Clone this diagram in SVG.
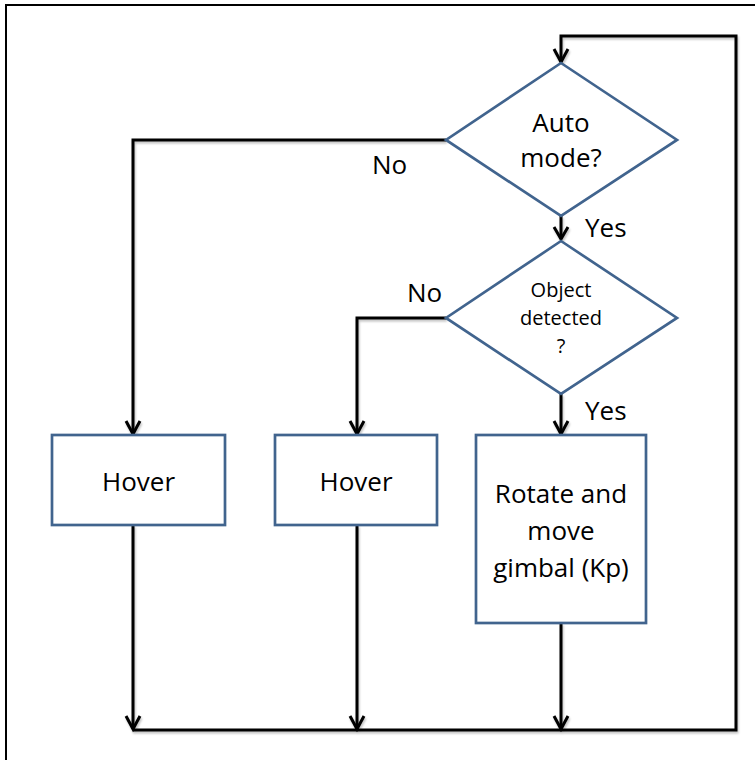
<svg xmlns="http://www.w3.org/2000/svg" width="755" height="760" viewBox="0 0 755 760">
  <style>
    .shape { fill: #ffffff; stroke: #41648e; stroke-width: 2.7; }
    .wire { fill: none; stroke: #000000; stroke-width: 3; stroke-linejoin: miter; }
    .lbl { font-family: "Open Sans", "Liberation Sans", sans-serif; font-size: 26px; fill: #000000; }
    .small { font-size: 20px; }
    .mid { text-anchor: middle; }
  </style>
  <defs>
    <!-- faint drop shadow under the connector lines -->
    <filter id="soft" x="-5%" y="-5%" width="110%" height="110%">
      <feGaussianBlur in="SourceAlpha" stdDeviation="1.2"/>
      <feOffset dx="1" dy="2" result="b"/>
      <feComponentTransfer><feFuncA type="linear" slope="0.25"/></feComponentTransfer>
      <feMerge><feMergeNode/><feMergeNode in="SourceGraphic"/></feMerge>
    </filter>
  </defs>

  <rect width="755" height="760" fill="#ffffff"/>
  <!-- outer frame -->
  <rect x="6" y="5" width="800" height="800" fill="none" stroke="#000000" stroke-width="2"/>

  <g id="connectors" class="wire" filter="url(#soft)">
    <!-- loop back to the start -->
    <polyline points="133,730 736,730 736,36 561,36 561,62"/>
    <path d="M554,49 L561,62 L568,49"/>
    <!-- Auto mode? No -> Hover -->
    <polyline points="446,140 133,140 133,434"/>
    <path d="M126,421 L133,434 L140,421"/>
    <!-- Auto mode? Yes -> Object detected? -->
    <line x1="561" y1="216" x2="561" y2="239"/>
    <path d="M554,227 L561,239 L568,227"/>
    <!-- Object detected? No -> Hover -->
    <polyline points="446,318 357,318 357,434"/>
    <path d="M350,421 L357,434 L364,421"/>
    <!-- Object detected? Yes -> Rotate -->
    <line x1="561" y1="394" x2="561" y2="434"/>
    <path d="M554,421 L561,434 L568,421"/>
    <!-- boxes down to the return line -->
    <line x1="133" y1="525" x2="133" y2="729"/>
    <path d="M126,716 L133,729 L140,716"/>
    <line x1="357" y1="525" x2="357" y2="729"/>
    <path d="M350,716 L357,729 L364,716"/>
    <line x1="561" y1="623" x2="561" y2="729"/>
    <path d="M554,716 L561,729 L568,716"/>
  </g>

  <g id="auto-mode">
    <polygon class="shape" points="561,63 677,140 561,216 446,140"/>
    <text class="lbl mid" x="561" y="132">Auto</text>
    <text class="lbl mid" x="561" y="167">mode?</text>
  </g>

  <g id="object-detected">
    <polygon class="shape" points="561,241 677,318 561,394 446,318"/>
    <text class="lbl small mid" x="561" y="297">Object</text>
    <text class="lbl small mid" x="561" y="325">detected</text>
    <text class="lbl small mid" x="561" y="353">?</text>
  </g>

  <g id="hover-manual">
    <rect class="shape" x="52" y="435" width="173" height="90"/>
    <text class="lbl mid" x="138.5" y="491">Hover</text>
  </g>

  <g id="hover-idle">
    <rect class="shape" x="275" y="435" width="162" height="90"/>
    <text class="lbl mid" x="356" y="491">Hover</text>
  </g>

  <g id="rotate-gimbal">
    <rect class="shape" x="476" y="435" width="170" height="188"/>
    <text class="lbl mid" x="561" y="503">Rotate and</text>
    <text class="lbl mid" x="561" y="540">move</text>
    <text class="lbl mid" x="561" y="577">gimbal (Kp)</text>
  </g>

  <g id="labels">
    <text class="lbl" x="372" y="174">No</text>
    <text class="lbl" x="585" y="237">Yes</text>
    <text class="lbl" x="407" y="302">No</text>
    <text class="lbl" x="585" y="420">Yes</text>
  </g>
</svg>
